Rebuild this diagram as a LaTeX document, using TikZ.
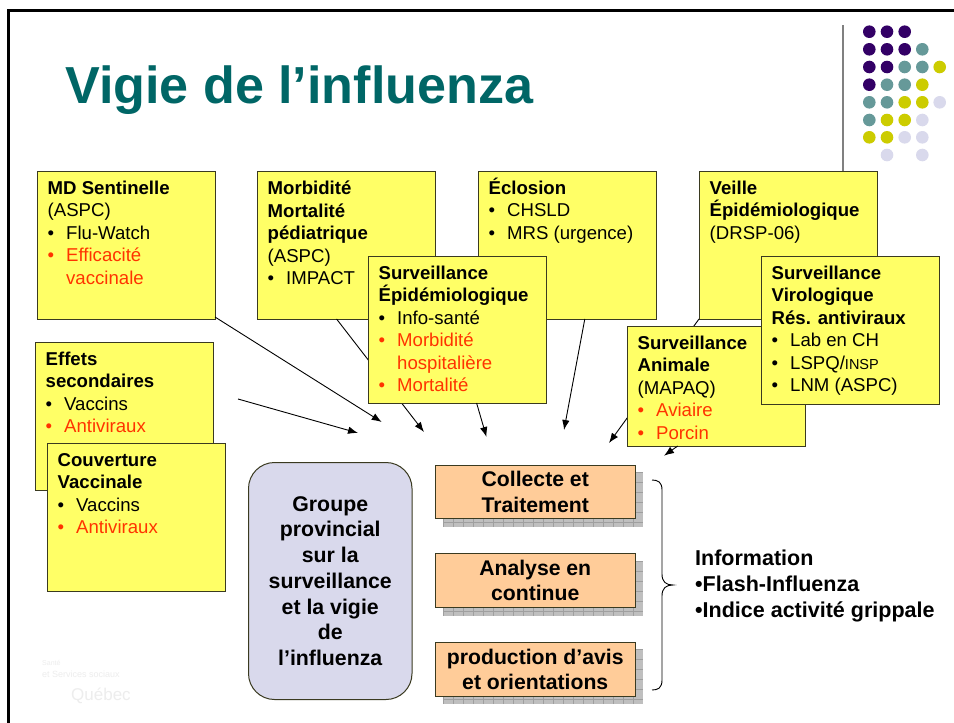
\documentclass[tikz,border=0pt]{standalone}
\usepackage{fontspec}
\setmainfont{Liberation Sans}
\usetikzlibrary{arrows.meta,calc}
\definecolor{boxyellow}{HTML}{FFFF66}
\definecolor{boxedge}{HTML}{3A3A20}
\definecolor{alertred}{HTML}{FF3300}
\definecolor{titleteal}{HTML}{006666}
\definecolor{boxorange}{HTML}{FFCC99}
\definecolor{lav}{HTML}{D9D9EC}
\definecolor{dotpurple}{HTML}{330066}
\definecolor{dotteal}{HTML}{669999}
\definecolor{dotyellow}{HTML}{CCCC00}
\newcommand{\boxtxt}[2]{\begin{minipage}[c][#1pt][t]{178pt}\fontsize{18.6}{22.5}\selectfont\raggedright\leftskip=10.7pt\parindent=0pt\vspace*{10pt}\leavevmode\rule{0pt}{13pt}#2\end{minipage}}
\newcommand{\itm}[1]{\makebox[18.5pt][l]{•}#1}
\newcommand{\ritm}[1]{\textcolor{alertred}{\makebox[18.5pt][l]{•}#1}}
\newcommand{\rcont}[1]{\hspace*{18.5pt}\textcolor{alertred}{#1}}
\newcommand{\hdr}[1]{\textbf{#1}}
\tikzset{
  yellowbox/.style={draw=boxedge,line width=1pt,fill=boxyellow,inner sep=0pt,anchor=north west,outer sep=0pt},
  conn/.style={-{Latex[length=10pt,width=7.5pt]},black,line width=0.9pt},
  orangebox/.style={draw=boxedge,line width=1pt,fill=boxorange,anchor=north west,minimum width=199.5pt,minimum height=53.5pt,inner sep=0pt,align=center,font=\fontsize{21.2}{25.6}\selectfont\bfseries},
  dot/.style={circle,fill=#1,minimum size=12.6pt,inner sep=0pt},
  shadowfill/.style={fill=gray!50},
  shadowgrid/.style={draw=gray!75,line width=0.5pt}
}
\newcommand{\shadowrect}[2]{%
  \fill[shadowfill] (#1,#2) rectangle ++(199.5,54.5);
  \foreach \gx in {0,10,...,190}{\draw[shadowgrid] ($(#1,#2)+(\gx,0)$) -- ++(0,54.5);}
  \foreach \gy in {0,10,...,50}{\draw[shadowgrid] ($(#1,#2)+(0,\gy)$) -- ++(199.5,0);}
}
\begin{document}
\begin{tikzpicture}[x=1pt,y=-1pt]
\useasboundingbox (0,0) rectangle (954,723);
\fill[white] (0,0) rectangle (954,723);
% frame
\coordinate (frameR) at (954,10.7);
\coordinate (frameC) at (8.7,10.7);
\coordinate (frameB) at (8.7,723);
\draw[black,line width=3pt] (frameR) -- (frameC) -- (frameB);
% title
\node[anchor=base west,inner sep=0pt,text=titleteal,font=\fontsize{52.1}{60}\selectfont\bfseries] (title) at (65,103) {Vigie de l’influenza};
% decor
\coordinate (ruleT) at (843,25);
\coordinate (ruleB) at (843,172);
\draw[gray,line width=1.6pt] (ruleT) -- (ruleB);
\foreach \dc/\dx/\dy in {
 dotpurple/869.3/31.7,dotpurple/887/31.7,dotpurple/904.7/31.7,
 dotpurple/869.3/49.3,dotpurple/887/49.3,dotpurple/904.7/49.3,dotteal/922.3/49.3,
 dotpurple/869.3/67,dotpurple/887/67,dotteal/904.7/67,dotteal/922.3/67,dotyellow/939.7/67,
 dotpurple/869.3/84.7,dotteal/887/84.7,dotteal/904.7/84.7,dotyellow/922.3/84.7,
 dotteal/869.3/102.3,dotteal/887/102.3,dotyellow/904.7/102.3,dotyellow/922.3/102.3,lav/939.7/102.3,
 dotteal/869.3/120,dotyellow/887/120,dotyellow/904.7/120,lav/922.3/120,
 dotyellow/869.3/137.3,dotyellow/887/137.3,lav/904.7/137.3,lav/922.3/137.3,
 lav/887/155,lav/922.3/155}{
  \node[dot=\dc] at (\dx,\dy) {};
}
% faint logo
\node[anchor=base west,inner sep=0pt,text=black!7,font=\fontsize{7}{8}\selectfont] (logoa) at (42,665) {Santé};
\node[anchor=base west,inner sep=0pt,text=black!7,font=\fontsize{9}{10}\selectfont] (logob) at (42,677) {et Services sociaux};
\node[anchor=base west,inner sep=0pt,text=black!7,font=\fontsize{17}{20}\selectfont] (logoc) at (71,700) {Québec};
% upper boxes
\node[yellowbox] (md) at (37,171) {\boxtxt{148}{\hdr{MD Sentinelle}\\(ASPC)\\\itm{Flu-Watch}\\\ritm{Efficacité}\\\rcont{vaccinale}}};
\node[yellowbox] (morb) at (257,171) {\boxtxt{148}{\hdr{Morbidité}\\\hdr{Mortalité}\\\hdr{pédiatrique}\\(ASPC)\\\itm{IMPACT}}};
\node[yellowbox] (eclo) at (478,171) {\boxtxt{148}{\smash{\hdr{Éclosion}}\\\itm{CHSLD}\\\itm{MRS (urgence)}}};
\node[yellowbox] (veille) at (699,171) {\boxtxt{148}{\hdr{Veille}\\\hdr{Épidémiologique}\\(DRSP-06)}};
% free ends
\coordinate (endMd) at (381.7,422);
\coordinate (startEff) at (238,399);
\coordinate (endEff) at (358,433);
\coordinate (endMorb) at (424,432);
\coordinate (endEpi) at (486.5,437);
\coordinate (endEclo) at (564,430);
\coordinate (endVeille) at (609,443);
\coordinate (endAnim) at (664,455.7);
% connectors
\draw[conn] (md.south east) ++(0,-2) -- (endMd);
\draw[conn] (startEff) -- (endEff);
\draw[conn] ($(morb.south west)!0.447!(morb.south east)$) -- (endMorb);
\draw[conn] ($(eclo.south west)!0.6!(eclo.south east)$) -- (endEclo);
\draw[conn] (veille.south west) -- (endVeille);
% middle boxes
\node[yellowbox] (epi) at (368,256) {\boxtxt{147}{\hdr{Surveillance}\\\hdr{Épidémiologique}\\\itm{Info-santé}\\\ritm{Morbidité}\\\rcont{hospitalière}\\\ritm{Mortalité}}};
\draw[conn] ($(epi.south west)!0.61!(epi.south east)$) -- (endEpi);
\node[yellowbox] (anim) at (627,326) {\boxtxt{120}{\hdr{Surveillance}\\\hdr{Animale}\\(MAPAQ)\\\ritm{Aviaire}\\\ritm{Porcin}}};
\draw[conn] ($(anim.south west)!0.285!(anim.south east)$) -- (endAnim);
\node[yellowbox] (viro) at (761,256) {\boxtxt{148}{\hdr{Surveillance}\\\hdr{Virologique}\\\hdr{Rés. antiviraux}\\\itm{Lab en CH}\\\itm{LSPQ/{\fontsize{14.5}{22.5}\selectfont INSP}}\\\itm{LNM (ASPC)}}};
% left boxes
\node[yellowbox] (eff) at (35,342) {\boxtxt{148}{\hdr{Effets}\\\hdr{secondaires}\\\itm{Vaccins}\\\ritm{Antiviraux}}};
\node[yellowbox] (couv) at (47,443) {\boxtxt{148}{\hdr{Couverture}\\\hdr{Vaccinale}\\\itm{Vaccins}\\\ritm{Antiviraux}}};
% group
\node[draw=boxedge,line width=1pt,fill=lav,rounded corners=26pt,anchor=north west,minimum width=163.5pt,minimum height=237pt,inner sep=0pt,align=center,font=\fontsize{21.3}{25.7}\selectfont\bfseries] (groupe) at (248,462) {Groupe\\provincial\\sur la\\surveillance\\et la vigie\\de\\l’influenza};
% process boxes
\shadowrect{443}{472}
\shadowrect{443}{561}
\shadowrect{443}{649.5}
\node[orangebox] (collecte) at (435,464.5) {Collecte et\\Traitement};
\node[orangebox] (analyse) at (435,553.3) {Analyse en\\continue};
\node[orangebox] (avis) at (435,642) {production d’avis\\et orientations};
% brace
\coordinate (brT) at (652,480);
\coordinate (brM) at (673,585);
\coordinate (brB) at (652,690);
\draw[black,line width=0.9pt] (brT) .. controls (658,480) and (662,482) .. (662,490) -- (662,574) .. controls (662,582) and (666,585) .. (brM) .. controls (666,585) and (662,588) .. (662,596) -- (662,680) .. controls (662,688) and (658,690) .. (brB);
% info
\node[anchor=north west,inner sep=0pt,align=left,font=\fontsize{21.5}{25.7}\selectfont\bfseries] (info) at (695,550) {Information\\•Flash-Influenza\\•Indice activité grippale};
\end{tikzpicture}
\end{document}
